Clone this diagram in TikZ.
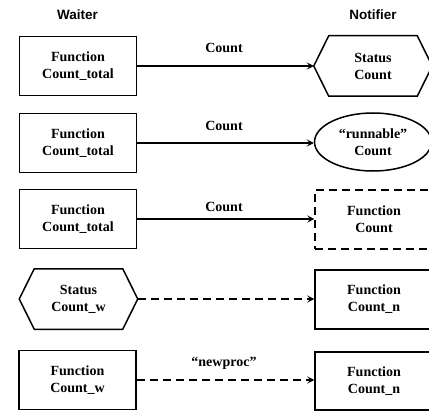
\documentclass[tikz,border=0pt]{standalone}
\usepackage{fontspec}
\setmainfont{Liberation Serif}
\newfontfamily\headfont{Liberation Sans}
\usetikzlibrary{arrows.meta,shapes.geometric,calc}

\begin{document}
\begin{tikzpicture}[x=1pt,y=-1pt,
  every node/.style={font=\bfseries\fontsize{14}{17}\selectfont, align=center},
  shapebox/.style={minimum width=117pt, minimum height=59pt, inner sep=0pt, line width=1.5pt},
  rectbox/.style={shapebox, draw},
  dashbox/.style={shapebox, draw, dash pattern=on 8pt off 5pt},
  ovalbox/.style={shapebox, draw, ellipse},
  hexbox/.style={shapebox},
  hexline/.style={line width=1.5pt, line join=miter},
  heading/.style={font=\headfont\bfseries\fontsize{13.5}{16}\selectfont},
  flow/.style={line width=1.5pt, -{Stealth[length=7pt,width=7pt,inset=3pt]}},
  dflow/.style={flow, dash pattern=on 8pt off 5pt},
  lbl/.style={inner sep=0pt}
]
\useasboundingbox (0,0) rectangle (429,412);

% column headings
\node[heading] (hw) at (77.5,15) {Waiter};
\node[heading] (hn) at (373,15) {Notifier};

% waiter side
\node[rectbox] (w1) at (78,66) {Function\\Count\_total};
\node[rectbox] (w2) at (78,143) {Function\\Count\_total};
\node[rectbox] (w3) at (78,219) {Function\\Count\_total};
\node[hexbox]  (w4) at (78.5,299) {Status\\Count\_w};
\node[rectbox] (w5) at (77.5,380) {Function\\Count\_w};

% notifier side
\node[hexbox]  (n1) at (373,66) {Status\\Count};
\node[ovalbox, minimum height=58pt] (n2) at (373,142) {“runnable”\\Count};
\node[dashbox, minimum width=118pt] (n3) at (374,219.5) {Function\\Count};
\node[rectbox, minimum width=118pt] (n4) at (374,299.5) {Function\\Count\_n};
\node[rectbox, minimum width=118pt, minimum height=58pt] (n5) at (374,381) {Function\\Count\_n};

% hexagon outlines
\foreach \h in {w4,n1}{
  \draw[hexline] (\h.west) -- ($(\h.north west)+(15,0)$) -- ($(\h.north east)+(-15,0)$)
    -- (\h.east) -- ($(\h.south east)+(-15,0)$) -- ($(\h.south west)+(15,0)$) -- cycle;
}

% connectors
\draw[flow] (w1) -- (n1);
\draw[flow] (w2.east) -- (w2.east -| n2.west);
\draw[flow] (w3.east) -- (w3.east -| n3.west);
\draw[dflow] (w4.east) -- (w4.east -| n4.west);
\draw[dflow] (w5.east) -- (w5.east -| n5.west);

% connector labels
\node[lbl] (l1) at (224,48) {Count};
\node[lbl] (l2) at (224,126) {Count};
\node[lbl] (l3) at (224,207) {Count};
\node[lbl] (l5) at (224,363) {“newproc”};
\end{tikzpicture}
\end{document}
